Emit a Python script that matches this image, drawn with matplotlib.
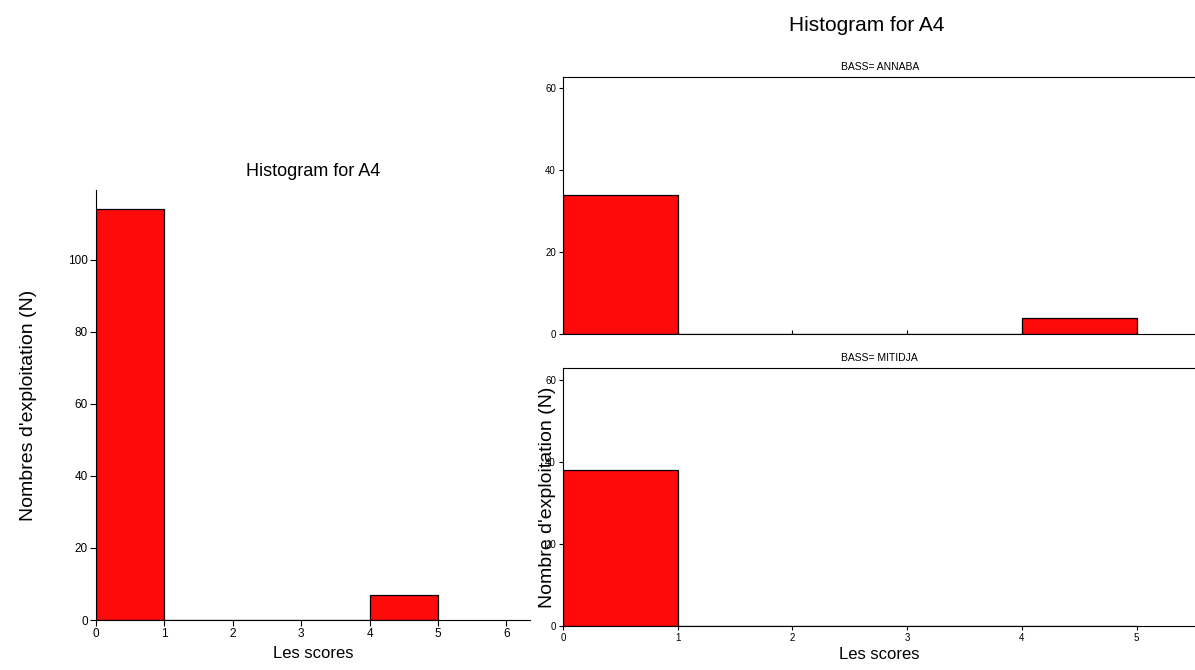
import matplotlib.pyplot as plt
import numpy as np

plt.rcParams['font.family'] = ['Liberation Sans', 'DejaVu Sans']

# Bins des scores (largeur 1)
bin_edges = [0, 1, 2, 3, 4, 5]
# Effectifs - ensemble
counts_all = [114, 0, 0, 0, 7]
# Effectifs par bassin
counts_annaba = [34, 0, 0, 0, 4]
counts_mitidja = [38, 0, 0, 0, 0]
bass_labels = ['BASS= ANNABA', 'BASS= MITIDJA']

bar_color = '#ff0a0a'


def draw_hist(ax, counts):
    lefts = np.array(bin_edges[:-1])
    ax.bar(lefts, counts, width=1, align='edge', color=bar_color,
           edgecolor='black', linewidth=0.9)


fig = plt.figure(figsize=(11.95, 6.7), dpi=100)

# Panneau de gauche
ax0 = fig.add_axes([0.0803, 0.0746, 0.363, 0.642])
draw_hist(ax0, counts_all)
ax0.set_xlim(0, 6.34)
ax0.set_ylim(0, 119.4)
ax0.set_xticks(range(0, 7))
ax0.set_yticks(range(0, 101, 20))
ax0.spines['top'].set_visible(False)
ax0.spines['right'].set_visible(False)
ax0.tick_params(labelsize=8.5, length=4, width=0.8, pad=2)
ax0.set_title('Histogram for A4', fontsize=13, pad=10)
ax0.set_xlabel('Les scores', fontsize=12, labelpad=4)
ax0.set_ylabel("Nombres d'exploitation (N)", fontsize=14, labelpad=22)

# Panneaux de droite
fig.text(0.7255, 0.962, 'Histogram for A4', ha='center', va='center', fontsize=15)

ax1 = fig.add_axes([0.4711, 0.5015, 0.53, 0.384])
ax2 = fig.add_axes([0.4711, 0.0661, 0.53, 0.384])
for ax, counts, lab in zip([ax1, ax2], [counts_annaba, counts_mitidja], bass_labels):
    draw_hist(ax, counts)
    ax.set_xlim(0, 5.52)
    ax.set_ylim(0, 62.8)
    ax.set_yticks([0, 20, 40, 60])
    ax.set_xticks(range(0, 6))
    ax.spines['right'].set_visible(False)
    ax.tick_params(labelsize=7, length=3, width=0.8, pad=2)
    ax.set_title(lab, fontsize=7.5, pad=5)

ax1.tick_params(axis='x', direction='in', labelbottom=False)
ax2.set_xlabel('Les scores', fontsize=12, labelpad=3)
fig.text(0.4585, 0.257, "Nombre d'exploitation (N)", rotation=90,
         ha='center', va='center', fontsize=14)

fig.savefig('out.png', dpi=100)
